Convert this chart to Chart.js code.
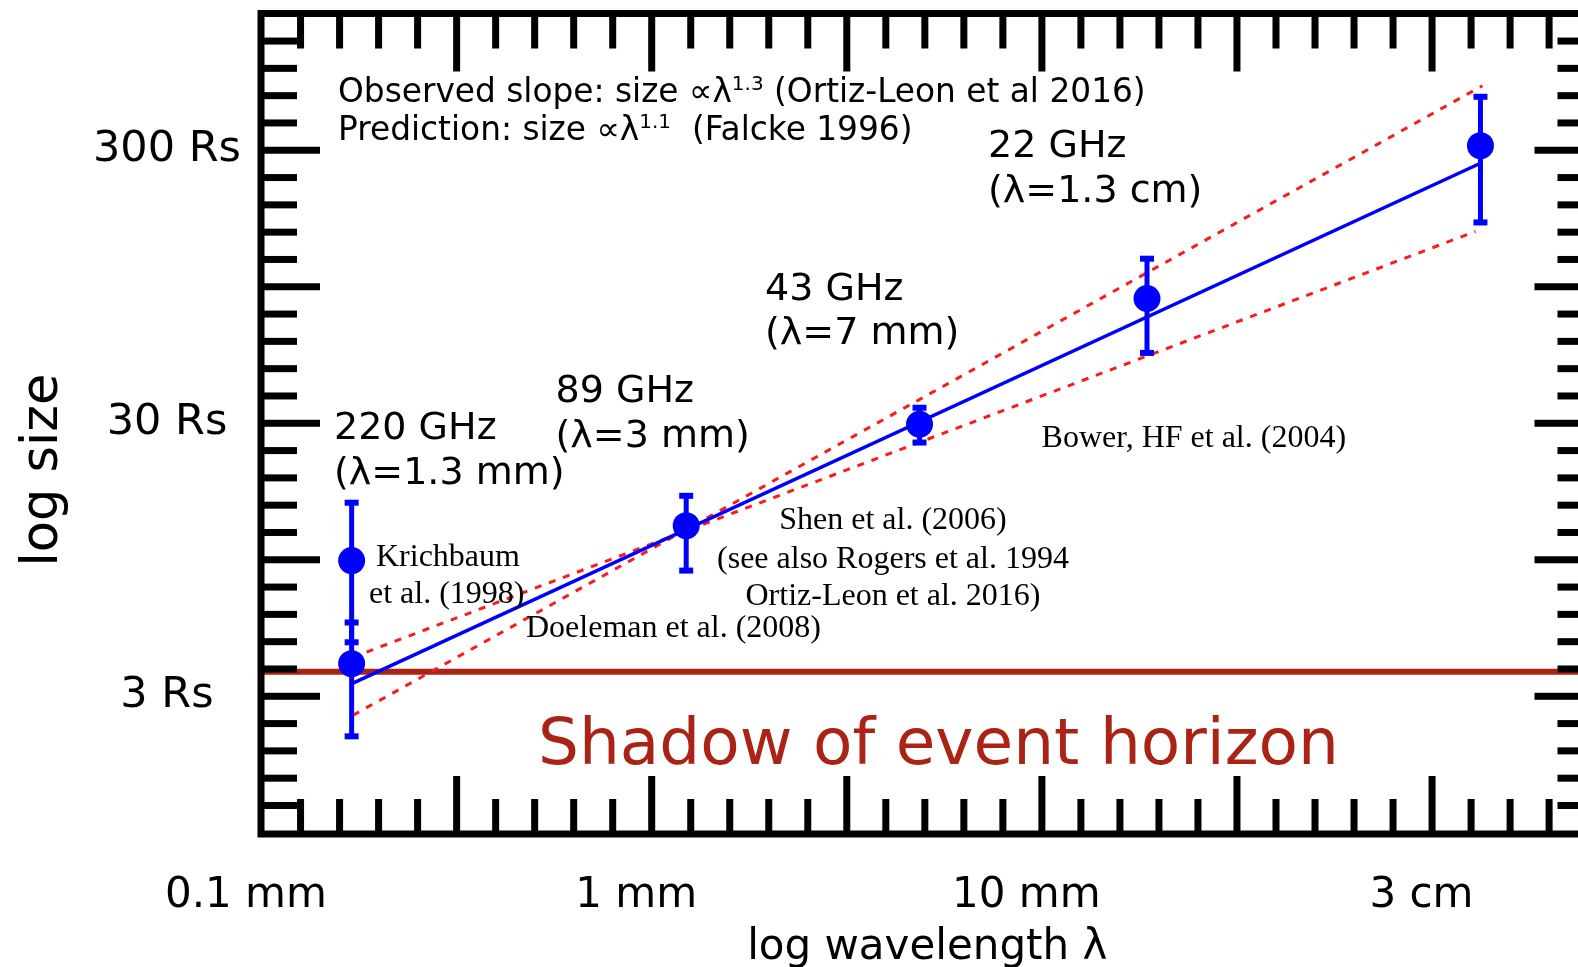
<!DOCTYPE html>
<html><head><meta charset="utf-8">
<script src="https://cdn.jsdelivr.net/npm/chart.js@4/dist/chart.umd.min.js"></script>
<style>html,body{margin:0;padding:0;background:#fff;overflow:hidden}canvas{display:block}</style>
</head><body>
<canvas id="c" width="1607" height="967"></canvas>
<script>
// ---- data (wavelength in mm, size in Schwarzschild radii) ----
const wavelengthMm = [0.1866, 0.1866, 1.344, 5.326, 20.39, 145.9];
const sizeRs       = [9.42,   3.95,   12.65, 29.76, 85.9,  311.9];
const sizeLow      = [4.73,   2.14,   8.66,  25.5,  54.3,  163.2];
const sizeHigh     = [15.35,  5.59,   16.27, 34.2,  120.2, 471];
const fitX   = [0.1881, 145.9];
const fitY   = [3.35, 268.8];
const steepX = [0.1881, 147.6];
const steepY = [2.557, 516.8];
const flatX  = [0.1876, 141.7];
const flatY  = [4.166, 151.3];
const shadowSize = 3.687;
const xTickValues = [0.1, 1, 10, 103];
const xTickLabels = ['0.1 mm', '1 mm', '10 mm', '3 cm'];
const yTickValues = [3, 30, 300];
const yTickLabels = ['3 Rs', '30 Rs', '300 Rs'];
const X_MIN = 0.1093, X_MAX = 284.3, Y_MIN = 0.939, Y_MAX = 950.7;

const BLUE = '#0000ff', RED = '#ff1a1a', DARKRED = '#aa2314';
const SANS = '"DejaVu Sans", Verdana, sans-serif';
const SERIF = '"Liberation Serif", "Times New Roman", serif';

const pts = (xs, ys) => xs.map((x, i) => ({x, y: ys[i]}));

// frame with inward tick marks, using the chart's own scales
const frameTicks = {
  id: 'frameTicks',
  afterDraw(chart) {
    const {ctx, chartArea: {left, right, top, bottom}, scales: {x, y}} = chart;
    ctx.save();
    ctx.fillStyle = '#000';
    const yBase = Math.log10(3);
    for (let k = -10; k <= 30; k++) {
      const p = y.getPixelForValue(Math.pow(10, yBase + 0.1 * k));
      if (p < top + 8 || p > bottom - 8) continue;
      const len = (k % 5 === 0) ? 59 : 36;
      ctx.fillRect(left, p - 3.5, len, 7);
      ctx.fillRect(right - len, p - 3.5, len, 7);
    }
    const xBase = -0.46;
    for (let k = -10; k <= 40; k++) {
      const p = x.getPixelForValue(Math.pow(10, xBase + 0.1 * k));
      if (p < left + 8 || p > right - 8) continue;
      const len = (k % 5 === 0) ? 58 : 35;
      ctx.fillRect(p - 3.5, top, 7, len);
      ctx.fillRect(p - 3.5, bottom - len, 7, len);
    }
    ctx.lineWidth = 7;
    ctx.strokeStyle = '#000';
    ctx.strokeRect(left, top, right - left, bottom - top);
    ctx.restore();
  }
};

// vertical error bars from sizeLow/sizeHigh
const errorBars = {
  id: 'errorBars',
  afterDatasetsDraw(chart) {
    const {ctx, scales: {x, y}} = chart;
    ctx.save();
    ctx.strokeStyle = BLUE; ctx.fillStyle = BLUE; ctx.lineWidth = 5;
    wavelengthMm.forEach((w, i) => {
      const px = x.getPixelForValue(w);
      const pl = y.getPixelForValue(sizeLow[i]);
      const ph = y.getPixelForValue(sizeHigh[i]);
      ctx.beginPath(); ctx.moveTo(px, ph); ctx.lineTo(px, pl); ctx.stroke();
      ctx.fillRect(px - 7, ph - 3, 14, 6);
      ctx.fillRect(px - 7, pl - 3, 14, 6);
    });
    ctx.restore();
  }
};

// text annotations
const notes = {
  id: 'notes',
  afterDraw(chart, args, opts) {
    const ctx = chart.ctx;
    ctx.save();
    ctx.textBaseline = 'alphabetic';
    for (const n of opts.items) {
      ctx.fillStyle = n.color || '#000';
      ctx.textAlign = n.align || 'left';
      if (n.parts) {
        let cx = n.x;
        ctx.textAlign = 'left';
        for (const [t, kind] of n.parts) {
          if (kind === 'sup') {
            ctx.font = `${Math.round(n.size * 0.62)}px ${n.family}`;
            ctx.fillText(t, cx, n.y - n.size * 0.38);
          } else {
            ctx.font = `${n.size}px ${n.family}`;
            ctx.fillText(t, cx, n.y);
          }
          cx += ctx.measureText(t).width;
        }
      } else {
        ctx.font = `${n.size}px ${n.family}`;
        if (n.rotate) {
          ctx.translate(n.x, n.y);
          ctx.rotate(n.rotate);
          ctx.textAlign = 'center';
          ctx.fillText(n.text, 0, 0);
          ctx.setTransform(1, 0, 0, 1, 0, 0);
        } else {
          ctx.fillText(n.text, n.x, n.y);
        }
      }
    }
    ctx.restore();
  }
};

new Chart(document.getElementById('c'), {
  type: 'scatter',
  data: {
    datasets: [
      {label: 'measured size', data: pts(wavelengthMm, sizeRs), backgroundColor: BLUE, borderWidth: 0,
       pointRadius: 13.5, pointHoverRadius: 13.5},
      {label: 'fit', data: pts(fitX, fitY), showLine: true, borderColor: BLUE, borderWidth: 3.5, pointRadius: 0},
      {label: 'steep bound', data: pts(steepX, steepY), showLine: true, borderColor: RED, borderWidth: 3,
       borderDash: [7, 8], pointRadius: 0},
      {label: 'flat bound', data: pts(flatX, flatY), showLine: true, borderColor: RED, borderWidth: 3,
       borderDash: [7, 8], pointRadius: 0},
      {label: 'shadow', data: pts([X_MIN, X_MAX], [shadowSize, shadowSize]), showLine: true,
       borderColor: DARKRED, borderWidth: 6, pointRadius: 0}
    ]
  },
  options: {
    responsive: false,
    devicePixelRatio: 1,
    animation: false,
    events: [],
    layout: {padding: {top: 11.5, right: 7, bottom: 0, left: 0}},
    plugins: {
      legend: {display: false},
      tooltip: {enabled: false},
      notes: {items: [
        {parts: [['Observed slope: size \u221D\u03BB'], ['1.3', 'sup'], [' (Ortiz-Leon et al 2016)']],
         x: 338, y: 102, size: 32.8, family: SANS},
        {parts: [['Prediction: size \u221D\u03BB'], ['1.1', 'sup'], ['  (Falcke 1996)']],
         x: 338, y: 140, size: 32.8, family: SANS},
        {text: '22 GHz', x: 988, y: 157, size: 38, family: SANS},
        {text: '(\u03BB=1.3 cm)', x: 988, y: 201.5, size: 38, family: SANS},
        {text: '43 GHz', x: 765, y: 299.5, size: 38, family: SANS},
        {text: '(\u03BB=7 mm)', x: 765, y: 344, size: 38, family: SANS},
        {text: '89 GHz', x: 555.5, y: 402, size: 38, family: SANS},
        {text: '(\u03BB=3 mm)', x: 555.5, y: 446.5, size: 38, family: SANS},
        {text: '220 GHz', x: 334, y: 439, size: 38, family: SANS},
        {text: '(\u03BB=1.3 mm)', x: 334, y: 483.5, size: 38, family: SANS},
        {text: 'Krichbaum', x: 376, y: 566, size: 32, family: SERIF},
        {text: 'et al. (1998)', x: 369, y: 603, size: 32, family: SERIF},
        {text: 'Doeleman et al. (2008)', x: 526, y: 637, size: 32, family: SERIF},
        {text: 'Shen et al. (2006)', x: 893, y: 529, size: 32, family: SERIF, align: 'center'},
        {text: '(see also Rogers et al. 1994', x: 893, y: 568, size: 32, family: SERIF, align: 'center'},
        {text: 'Ortiz-Leon et al. 2016)', x: 893, y: 605, size: 32, family: SERIF, align: 'center'},
        {text: 'Bower, HF et al. (2004)', x: 1041.6, y: 447, size: 32, family: SERIF},
        {text: 'Shadow of event horizon', x: 538, y: 764, size: 64.5, family: SANS, color: DARKRED},
        {text: 'log size', x: 56.7, y: 470, size: 51, family: SANS, rotate: -Math.PI / 2}
      ]}
    },
    scales: {
      x: {
        type: 'logarithmic', position: 'bottom', min: X_MIN, max: X_MAX,
        afterBuildTicks: s => { s.ticks = xTickValues.map(v => ({value: v})); },
        afterFit: s => { s.height = 133; s.paddingLeft = 0; s.paddingRight = 0; },
        grid: {display: false, drawTicks: false},
        border: {display: false},
        ticks: {autoSkip: false, maxRotation: 0, minRotation: 0, padding: 37, color: '#000',
                font: {family: SANS, size: 42}, callback: (v, i) => xTickLabels[i]},
        title: {display: true, text: 'log wavelength \u03BB', color: '#000', padding: 0,
                font: {family: SANS, size: 42, lineHeight: 0.88}}
      },
      y: {
        type: 'logarithmic', position: 'left', min: Y_MIN, max: Y_MAX,
        afterBuildTicks: s => { s.ticks = yTickValues.map(v => ({value: v})); },
        afterFit: s => { s.width = 261; s.paddingTop = 0; s.paddingBottom = 0; },
        grid: {display: false, drawTicks: false},
        border: {display: false},
        ticks: {autoSkip: false, crossAlign: 'center', padding: 20, color: '#000',
                font: {family: SANS, size: 43}, callback: (v, i) => yTickLabels[i]}
      }
    }
  },
  plugins: [errorBars, frameTicks, notes]
});
</script>
</body></html>
